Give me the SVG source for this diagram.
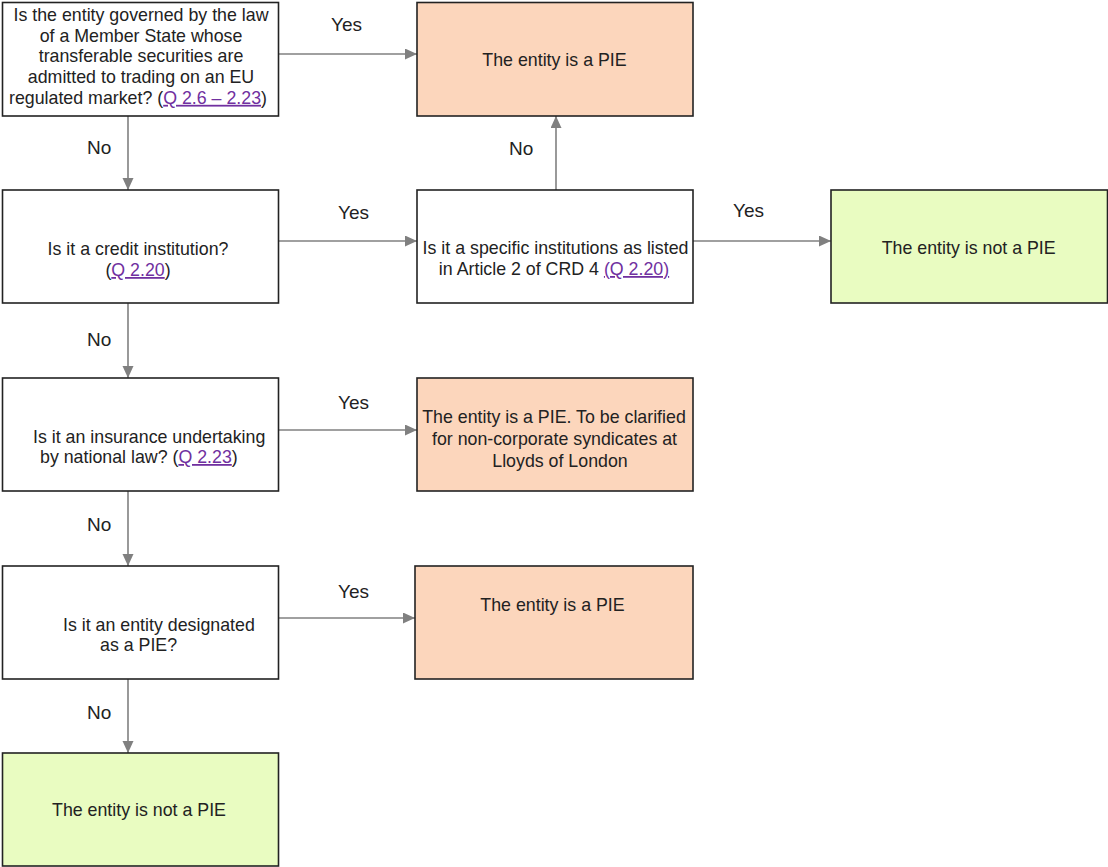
<svg xmlns="http://www.w3.org/2000/svg" width="1108" height="867" viewBox="0 0 1108 867">
<style>
.box{stroke:#222;stroke-width:1.6;fill:#fff}
.pie{fill:#FCD6BC}
.notpie{fill:#E9FCC1}
.t{font-family:"Liberation Sans",Arial,sans-serif;font-size:17.8px;fill:#222;text-anchor:middle}
.ts{font-family:"Liberation Sans",Arial,sans-serif;font-size:17.8px;fill:#222;text-anchor:start}
.lbl{font-family:"Liberation Sans",Arial,sans-serif;font-size:19px;fill:#222;text-anchor:start}
.lnk{fill:#7030A0;text-decoration:underline}
.c{stroke:#808080;stroke-width:1.6;fill:none;marker-end:url(#ah)}
</style>
<defs>
<marker id="ah" markerUnits="userSpaceOnUse" markerWidth="13" markerHeight="12" refX="12" refY="5.5" orient="auto">
<path d="M0,0 L12,5.5 L0,11 Z" fill="#808080"/>
</marker>
</defs>
<rect width="1108" height="867" fill="#fff"/>
<g id="connectors">
<line class="c" x1="279" y1="54" x2="417" y2="54"/>
<line class="c" x1="128" y1="116" x2="128" y2="190"/>
<line class="c" x1="279" y1="241" x2="417" y2="241"/>
<line class="c" x1="556" y1="190" x2="556" y2="116"/>
<line class="c" x1="693" y1="241" x2="831" y2="241"/>
<line class="c" x1="128" y1="303" x2="128" y2="378"/>
<line class="c" x1="279" y1="430" x2="417" y2="430"/>
<line class="c" x1="128" y1="491" x2="128" y2="566"/>
<line class="c" x1="279" y1="618" x2="415" y2="618"/>
<line class="c" x1="128" y1="679" x2="128" y2="753"/>
<text class="lbl" x="331" y="31">Yes</text>
<text class="lbl" x="87" y="154">No</text>
<text class="lbl" x="509" y="155">No</text>
<text class="lbl" x="338" y="219">Yes</text>
<text class="lbl" x="733" y="217">Yes</text>
<text class="lbl" x="87" y="346">No</text>
<text class="lbl" x="338" y="409">Yes</text>
<text class="lbl" x="87" y="531">No</text>
<text class="lbl" x="338" y="598">Yes</text>
<text class="lbl" x="87" y="719">No</text>
</g>
<g id="q1">
<rect class="box" x="2.5" y="2.5" width="276" height="113.5"/>
<text class="t" x="141" y="21">Is the entity governed by the law</text>
<text class="t" x="141" y="41.7">of a Member State whose</text>
<text class="t" x="141" y="62.4">transferable securities are</text>
<text class="t" x="141" y="83.1">admitted to trading on an EU</text>
<text class="t" x="138" y="103.8">regulated market? (<tspan class="lnk">Q 2.6 – 2.23</tspan>)</text>
</g>
<g id="pie1">
<rect class="box pie" x="417" y="2.5" width="276" height="113.5"/>
<text class="t" x="554.5" y="66">The entity is a PIE</text>
</g>
<g id="q2">
<rect class="box" x="2.5" y="190" width="276" height="113"/>
<text class="t" x="138" y="255">Is it a credit institution?</text>
<text class="t" x="138" y="276">(<tspan class="lnk">Q 2.20</tspan>)</text>
</g>
<g id="q2b">
<rect class="box" x="417" y="190" width="276" height="113"/>
<text class="t" x="555.5" y="254">Is it a specific institutions as listed</text>
<text class="t" x="554" y="275">in Article 2 of CRD 4 <tspan class="lnk">(Q 2.20)</tspan></text>
</g>
<g id="notpie1">
<rect class="box notpie" x="831" y="190" width="276.5" height="113"/>
<text class="t" x="968.7" y="254">The entity is not a PIE</text>
</g>
<g id="q3">
<rect class="box" x="2.5" y="378" width="276" height="113"/>
<text class="ts" x="33" y="443">Is it an insurance undertaking</text>
<text class="ts" x="40" y="463">by national law? (<tspan class="lnk">Q 2.23</tspan>)</text>
</g>
<g id="pie2">
<rect class="box pie" x="417" y="378" width="276" height="113"/>
<text class="t" x="554" y="423">The entity is a PIE. To be clarified</text>
<text class="t" x="554.5" y="445">for non-corporate syndicates at</text>
<text class="t" x="560" y="467">Lloyds of London</text>
</g>
<g id="q4">
<rect class="box" x="2.5" y="566" width="276" height="113"/>
<text class="ts" x="63" y="631">Is it an entity designated</text>
<text class="ts" x="100" y="651">as a PIE?</text>
</g>
<g id="pie3">
<rect class="box pie" x="415" y="566" width="278" height="113"/>
<text class="t" x="552.5" y="611">The entity is a PIE</text>
</g>
<g id="notpie2">
<rect class="box notpie" x="2.5" y="753" width="276" height="113"/>
<text class="t" x="139" y="816">The entity is not a PIE</text>
</g>
</svg>
